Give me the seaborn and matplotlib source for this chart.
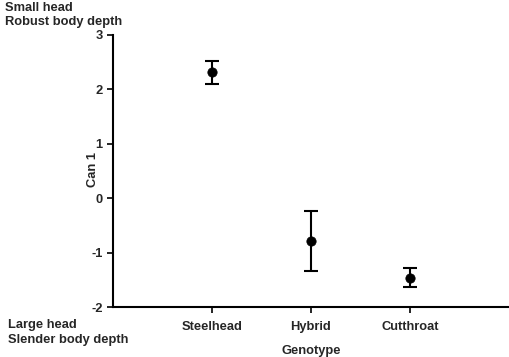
import numpy as np
import pandas as pd
import seaborn as sns
import matplotlib.pyplot as plt

genotypes = ['Steelhead', 'Hybrid', 'Cutthroat']
can1_mean = [2.32, -0.78, -1.46]
can1_upper = [2.52, -0.24, -1.29]
can1_lower = [2.10, -1.33, -1.64]
y_ticks = [-2, -1, 0, 1, 2, 3]

sns.set_style('ticks')
plt.rcParams['font.family'] = ['Liberation Sans', 'DejaVu Sans']
plt.rcParams['font.weight'] = 'bold'
fs = 9.3

df = pd.DataFrame({'genotype': genotypes, 'pos': [1, 2, 3], 'mean': can1_mean,
                   'upper': can1_upper, 'lower': can1_lower})

fig = plt.figure(figsize=(5.1, 3.57), dpi=100)
ax = fig.add_axes([0.2216, 0.140, 0.776, 0.762])

err = np.array([df['mean'] - df['lower'], df['upper'] - df['mean']])
ax.errorbar(df['pos'], df['mean'], yerr=err, fmt='none', ecolor='black',
            elinewidth=1.5, capsize=5, capthick=1.5)
sns.scatterplot(data=df, x='pos', y='mean', ax=ax, color='black', s=45,
                edgecolor='black', zorder=3)

ax.set_xlim(0, 4)
ax.set_ylim(-2, 3)
ax.set_yticks(y_ticks)
ax.set_yticklabels([str(t) for t in y_ticks], fontsize=fs, fontweight='bold')
ax.set_xticks(df['pos'])
ax.set_xticklabels(genotypes, fontsize=fs, fontweight='bold')
ax.tick_params(axis='both', length=4, width=1.2, color='black')
ax.tick_params(axis='x', pad=6)
ax.set_xlabel('Genotype', fontsize=fs, fontweight='bold', labelpad=9)
ax.set_ylabel('Can 1', fontsize=fs, fontweight='bold')
ax.yaxis.set_label_coords(-0.035, 0.504)
for side in ['left', 'bottom']:
    ax.spines[side].set_linewidth(1.5)
    ax.spines[side].set_color('black')
sns.despine(ax=ax)

fig.text(5 / 510, 1 - 8 / 357, 'Small head', fontsize=fs, fontweight='bold', va='center')
fig.text(5 / 510, 1 - 22 / 357, 'Robust body depth', fontsize=fs, fontweight='bold', va='center')
fig.text(8 / 510, 1 - 325 / 357, 'Large head', fontsize=fs, fontweight='bold', va='center')
fig.text(8 / 510, 1 - 340 / 357, 'Slender body depth', fontsize=fs, fontweight='bold', va='center')

fig.savefig('out.png', dpi=100)
